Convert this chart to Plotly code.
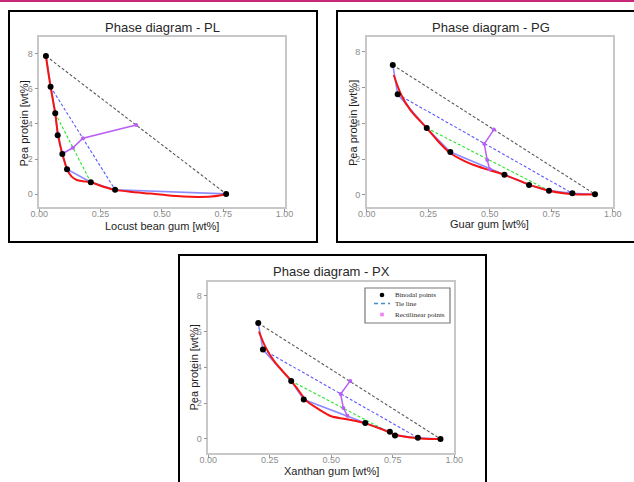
import plotly.graph_objects as go

W, H = 634, 482

def px(x):
    return x / W

def py(y):
    return 1 - y / H

# ---------------- data ----------------
# PL (Locust bean gum)
pl_bx = [0.027, 0.046, 0.065, 0.075, 0.094, 0.113, 0.21, 0.309, 0.762]
pl_by = [7.85, 6.1, 4.6, 3.35, 2.28, 1.42, 0.68, 0.26, 0.02]
pl_fx = [0.027, 0.038, 0.046, 0.056, 0.065, 0.075, 0.085, 0.094, 0.104, 0.113, 0.132, 0.153, 0.179, 0.21, 0.261, 0.309, 0.38, 0.452, 0.52, 0.588, 0.65, 0.70, 0.735, 0.762]
pl_fy = [7.85, 6.8, 6.1, 5.3, 4.6, 3.5, 2.8, 2.28, 1.8, 1.42, 1.0, 0.81, 0.74, 0.68, 0.43, 0.25, 0.13, 0.04, -0.06, -0.13, -0.15, -0.13, -0.07, 0.02]
pl_tie_black = ([0.027, 0.762], [7.85, 0.02])
pl_tie_blue = ([0.046, 0.309], [6.1, 0.26])
pl_tie_green = ([0.065, 0.21], [4.6, 0.68])
pl_rx = [0.094, 0.137, 0.178, 0.395]
pl_ry = [2.3, 2.64, 3.18, 3.93]

# PG (Guar gum)
pg_bx = [0.106, 0.126, 0.244, 0.34, 0.56, 0.66, 0.741, 0.836, 0.928]
pg_by = [7.26, 5.62, 3.74, 2.4, 1.13, 0.56, 0.24, 0.09, 0.04]
pg_fx = [0.11, 0.14, 0.18, 0.244, 0.29, 0.34, 0.40, 0.45, 0.50, 0.56, 0.62, 0.66, 0.70, 0.741, 0.80, 0.86, 0.90, 0.928]
pg_fy = [6.7, 5.6, 4.7, 3.74, 3.0, 2.33, 1.88, 1.6, 1.38, 1.12, 0.8, 0.58, 0.4, 0.24, 0.1, 0.03, 0.02, 0.04]
pg_tie_black = ([0.106, 0.928], [7.26, 0.04])
pg_tie_blue = ([0.126, 0.836], [5.62, 0.09])
pg_tie_green = ([0.244, 0.741], [3.74, 0.24])
pg_rx = [0.50, 0.49, 0.478, 0.517]
pg_ry = [1.43, 1.95, 2.85, 3.65]

# PX (Xanthan gum)
px_bx = [0.203, 0.222, 0.337, 0.388, 0.638, 0.738, 0.759, 0.852, 0.944]
px_by = [6.47, 4.99, 3.24, 2.2, 0.89, 0.41, 0.2, 0.07, 0.0]
px_fx = [0.206, 0.23, 0.27, 0.337, 0.37, 0.40, 0.45, 0.50, 0.55, 0.60, 0.638, 0.70, 0.759, 0.80, 0.85, 0.90, 0.944]
px_fy = [6.0, 5.2, 4.3, 3.25, 2.65, 2.12, 1.65, 1.27, 1.13, 1.0, 0.87, 0.57, 0.25, 0.12, 0.04, 0.0, 0.0]
px_tie_black = ([0.203, 0.944], [6.47, 0.0])
px_tie_blue = ([0.222, 0.852], [4.99, 0.07])
px_tie_green = ([0.337, 0.759], [3.24, 0.2])
px_rx = [0.565, 0.549, 0.538, 0.577]
px_ry = [1.3, 1.73, 2.51, 3.24]

x_ticks = [0, 0.25, 0.5, 0.75, 1.0]
y_ticks = [0, 2, 4, 6, 8]

titles = ["Phase diagram - PL", "Phase diagram - PG", "Phase diagram - PX"]
x_titles = ["Locust bean gum [wt%]", "Guar gum [wt%]", "Xanthan gum [wt%]"]
y_title = "Pea protein [wt%]"
legend_names = ["Binodal points", "Tie line", "Rectilinear points"]

# ---------------- figure ----------------
fig = go.Figure()

RED = "rgb(245,20,20)"
BLUE_SOLID = "rgba(110,110,255,0.8)"
BLUE_DASH = "rgb(90,90,255)"
GREEN_DASH = "rgb(40,230,40)"
BLACK_DASH = "rgb(90,90,90)"
VIOLET = "rgb(185,95,245)"
DASH = "3px,2px"

panels = [
    (pl_bx, pl_by, pl_fx, pl_fy, pl_tie_black, pl_tie_blue, pl_tie_green, pl_rx, pl_ry),
    (pg_bx, pg_by, pg_fx, pg_fy, pg_tie_black, pg_tie_blue, pg_tie_green, pg_rx, pg_ry),
    (px_bx, px_by, px_fx, px_fy, px_tie_black, px_tie_blue, px_tie_green, px_rx, px_ry),
]

for i, (bx, by, fx, fy, tb, tbl, tg, rx, ry) in enumerate(panels):
    xa = "x" if i == 0 else f"x{i+1}"
    ya = "y" if i == 0 else f"y{i+1}"
    common = dict(xaxis=xa, yaxis=ya, hoverinfo="skip", showlegend=False)
    for (tx, ty), col in [(tb, BLACK_DASH), (tbl, BLUE_DASH), (tg, GREEN_DASH)]:
        fig.add_trace(go.Scatter(x=tx, y=ty, mode="lines",
                                 line=dict(color=col, width=1.1, dash=DASH), **common))
    fig.add_trace(go.Scatter(x=bx, y=by, mode="lines",
                             line=dict(color=BLUE_SOLID, width=1.6), **common))
    fig.add_trace(go.Scatter(x=fx, y=fy, mode="lines",
                             line=dict(color=RED, width=2, shape="spline", smoothing=0.8), **common))
    fig.add_trace(go.Scatter(x=rx, y=ry, mode="lines+markers",
                             line=dict(color=VIOLET, width=1.5),
                             marker=dict(color=VIOLET, size=4), **common))
    fig.add_trace(go.Scatter(x=bx, y=by, mode="markers",
                             marker=dict(color="black", size=6), **common))

# plot areas in pixel coordinates: (left, right, top, bottom), y ranges
areas = [
    (39.3, 284.5, 37.0, 207.3, [-0.74, 8.93]),
    (366.7, 612.7, 36.7, 207.3, [-0.69, 8.84]),
    (208.3, 454.3, 281.7, 453.3, [-0.80, 8.78]),
]

tick_font = dict(family="Liberation Sans, Arial", size=9, color="rgb(140,140,140)")
axis_style = dict(showgrid=False, zeroline=False, showline=True, mirror=True,
                  linecolor="rgb(200,200,200)", linewidth=1.5,
                  ticks="outside", ticklen=3, tickcolor="rgb(150,150,150)",
                  tickfont=tick_font, automargin=False)

layout_axes = {}
for i, (l, r, t, b, yr) in enumerate(areas):
    xk = "xaxis" if i == 0 else f"xaxis{i+1}"
    yk = "yaxis" if i == 0 else f"yaxis{i+1}"
    xa = "x" if i == 0 else f"x{i+1}"
    ya = "y" if i == 0 else f"y{i+1}"
    layout_axes[xk] = dict(domain=[px(l), px(r)], range=[0, 1], tickvals=x_ticks,
                           tickformat=".2f", anchor=ya, ticklabelstandoff=-6, **axis_style)
    layout_axes[yk] = dict(domain=[py(b), py(t)], range=yr, tickvals=y_ticks,
                           anchor=xa, **axis_style)

annotations = []
title_pos = [(162, 27), (490.7, 27), (331.7, 271.7)]
xtitle_pos = [(162, 225.5), (489.7, 224.0), (331.3, 470.5)]
ytitle_pos = [(23.5, 124), (353, 123), (193.5, 368)]
for i in range(3):
    annotations.append(dict(x=px(title_pos[i][0]), y=py(title_pos[i][1]), xref="paper", yref="paper",
                            text=titles[i], showarrow=False, xanchor="center", yanchor="middle",
                            font=dict(family="Liberation Sans, Arial", size=13, color="rgb(40,40,40)")))
    annotations.append(dict(x=px(xtitle_pos[i][0]), y=py(xtitle_pos[i][1]), xref="paper", yref="paper",
                            text=x_titles[i], showarrow=False, xanchor="center", yanchor="middle",
                            font=dict(family="Liberation Sans, Arial", size=11, color="rgb(30,30,30)")))
    annotations.append(dict(x=px(ytitle_pos[i][0]), y=py(ytitle_pos[i][1]), xref="paper", yref="paper",
                            text=y_title, showarrow=False, xanchor="center", yanchor="middle",
                            textangle=-90,
                            font=dict(family="Liberation Sans, Arial", size=11, color="rgb(30,30,30)")))

shapes = [
    dict(type="line", xref="paper", yref="paper", x0=0, x1=1, y0=py(1), y1=py(1),
         line=dict(width=2, color="rgb(200,40,120)")),
]
boxes = [(9, 317, 11, 242), (337, 645, 11, 242), (179, 486, 255, 495)]
for (l, r, t, b) in boxes:
    shapes.append(dict(type="rect", xref="paper", yref="paper", x0=px(l), x1=px(r), y0=py(b), y1=py(t),
                       line=dict(color="black", width=2)))

# legend box for PX panel (drawn in pixel layout)
lg_l, lg_r, lg_t, lg_b = 365, 450, 288, 323
shapes.append(dict(type="rect", xref="paper", yref="paper", x0=px(lg_l), x1=px(lg_r),
                   y0=py(lg_b), y1=py(lg_t), line=dict(color="rgb(120,120,120)", width=1.2),
                   fillcolor="white"))
sym_x = 382
row_y = [295, 303.5, 314.5]
shapes.append(dict(type="circle", xref="paper", yref="paper",
                   x0=px(sym_x - 2.3), x1=px(sym_x + 2.3), y0=py(row_y[0] + 2.3), y1=py(row_y[0] - 2.3),
                   fillcolor="black", line=dict(width=0)))
shapes.append(dict(type="line", xref="paper", yref="paper",
                   x0=px(sym_x - 8), x1=px(sym_x + 8), y0=py(row_y[1]), y1=py(row_y[1]),
                   line=dict(color="rgb(70,140,200)", width=1.3, dash="4px,3px")))
shapes.append(dict(type="rect", xref="paper", yref="paper",
                   x0=px(sym_x - 1.8), x1=px(sym_x + 1.8), y0=py(row_y[2] + 1.8), y1=py(row_y[2] - 1.8),
                   fillcolor="violet", line=dict(width=0)))
for name, ry_ in zip(legend_names, row_y):
    annotations.append(dict(x=px(393), y=py(ry_), xref="paper", yref="paper", text=name,
                            showarrow=False, xanchor="left", yanchor="middle",
                            font=dict(family="Liberation Serif, Times New Roman", size=7,
                                      color="rgb(40,40,40)")))

fig.update_layout(
    width=W, height=H, margin=dict(l=0, r=0, t=0, b=0, pad=0, autoexpand=False),
    paper_bgcolor="white", plot_bgcolor="white",
    annotations=annotations, shapes=shapes,
    showlegend=False,
    **layout_axes,
)

fig.write_html("out.html", config={"displayModeBar": False, "responsive": False},
               post_script="document.body.style.margin='0px';document.body.style.padding='0px';document.body.style.overflow='hidden';")
